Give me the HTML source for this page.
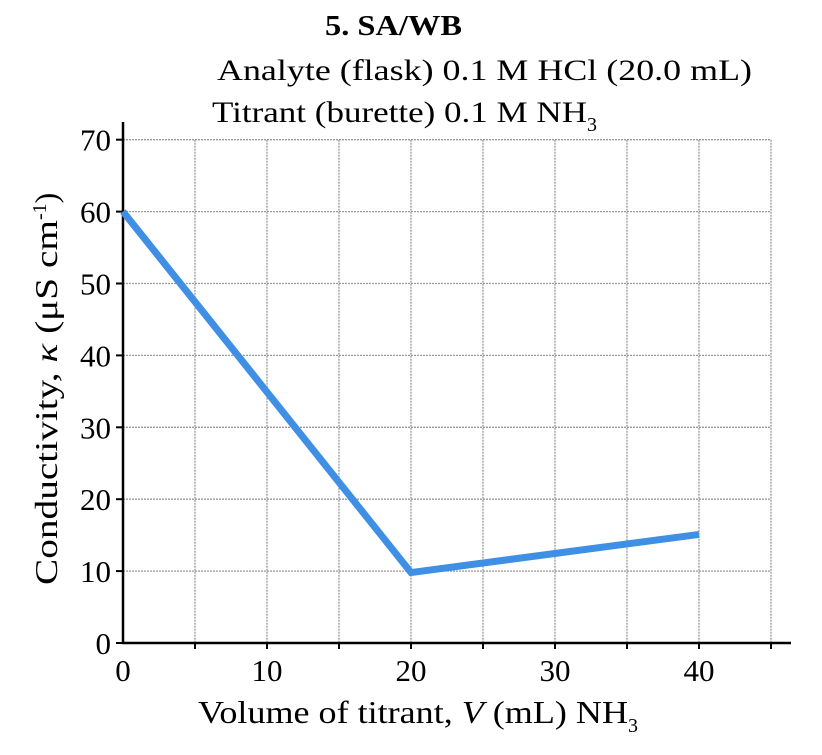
<!DOCTYPE html>
<html><head><meta charset="utf-8"><style>
body{margin:0;background:#fff;}
svg text{font-family:"Liberation Serif",serif;fill:#000;}
</style></head><body>
<svg width="822" height="750" xmlns="http://www.w3.org/2000/svg">
<text x="325" y="35" font-size="29" font-weight="bold" textLength="137" lengthAdjust="spacingAndGlyphs">5. SA/WB</text>
<text x="217" y="80" font-size="30" textLength="535" lengthAdjust="spacingAndGlyphs">Analyte (flask) 0.1 M HCl (20.0 mL)</text>
<text x="212" y="122" font-size="30"><tspan textLength="375" lengthAdjust="spacingAndGlyphs">Titrant (burette) 0.1 M NH</tspan><tspan font-size="20" dy="9">3</tspan></text>
<g id="grid"></g>
<g id="axes"></g>
<g id="series"></g>
<text x="198" y="723" font-size="32"><tspan textLength="430" lengthAdjust="spacingAndGlyphs">Volume of titrant, <tspan font-style="italic">V</tspan> (mL) NH</tspan><tspan font-size="20" dy="9">3</tspan></text>
<text transform="translate(57,585) rotate(-90)" font-size="32"><tspan textLength="365" lengthAdjust="spacingAndGlyphs">Conductivity, <tspan font-style="italic">κ</tspan> (μS cm</tspan><tspan font-size="20" dy="-11">-1</tspan><tspan dy="11">)</tspan></text>
</svg>
<script>
const xVals=[0,20,40];
const yVals=[60,9.8,15.1];
const xTickLabels=[0,10,20,30,40];
const yTickLabels=[0,10,20,30,40,50,60,70];
const NS="http://www.w3.org/2000/svg";
const X0=123,XS=14.4,Y0=643,YS=7.19;
const sx=v=>X0+v*XS, sy=v=>Y0-v*YS;
function mk(tag,attrs,parent){const e=document.createElementNS(NS,tag);for(const k in attrs)e.setAttribute(k,attrs[k]);parent.appendChild(e);return e;}
const grid=document.getElementById('grid'),axes=document.getElementById('axes'),series=document.getElementById('series');
for(let v=5;v<=45;v+=5){const l=mk('line',{x1:sx(v),x2:sx(v),y1:sy(70),y2:Y0,stroke:'#999','stroke-width':1.3,'stroke-dasharray':'2,1'},grid);


const t=mk('line',{x1:sx(v),x2:sx(v),y1:Y0,y2:Y0+6,stroke:'#000','stroke-width':2},axes);

}
for(let v=10;v<=70;v+=10){const l=mk('line',{x1:X0,x2:sx(45),y1:sy(v),y2:sy(v),stroke:'#999','stroke-width':1.3,'stroke-dasharray':'2,1'},grid);

}
for(const v of yTickLabels){const t=mk('line',{x1:X0-7,x2:X0,y1:sy(v),y2:sy(v),stroke:'#000','stroke-width':2},axes);


const tx=mk('text',{x:X0-12,y:sy(v)+11,'font-size':31,'text-anchor':'end'},axes);tx.textContent=v;

}
for(const v of xTickLabels){const tx=mk('text',{x:sx(v),y:Y0+38,'font-size':31,'text-anchor':'middle'},axes);tx.textContent=v;

}
const ya=mk('line',{x1:X0,x2:X0,y1:122,y2:Y0+1,stroke:'#000','stroke-width':2.5},axes);


const xa=mk('line',{x1:X0-1,x2:791,y1:Y0,y2:Y0,stroke:'#000','stroke-width':2.5},axes);


const pts=xVals.map((x,i)=>sx(x)+','+sy(yVals[i])).join(' ');
const pl=mk('polyline',{points:pts,fill:'none',stroke:'#3f8fe5','stroke-width':7},series);


</script>
</body></html>
